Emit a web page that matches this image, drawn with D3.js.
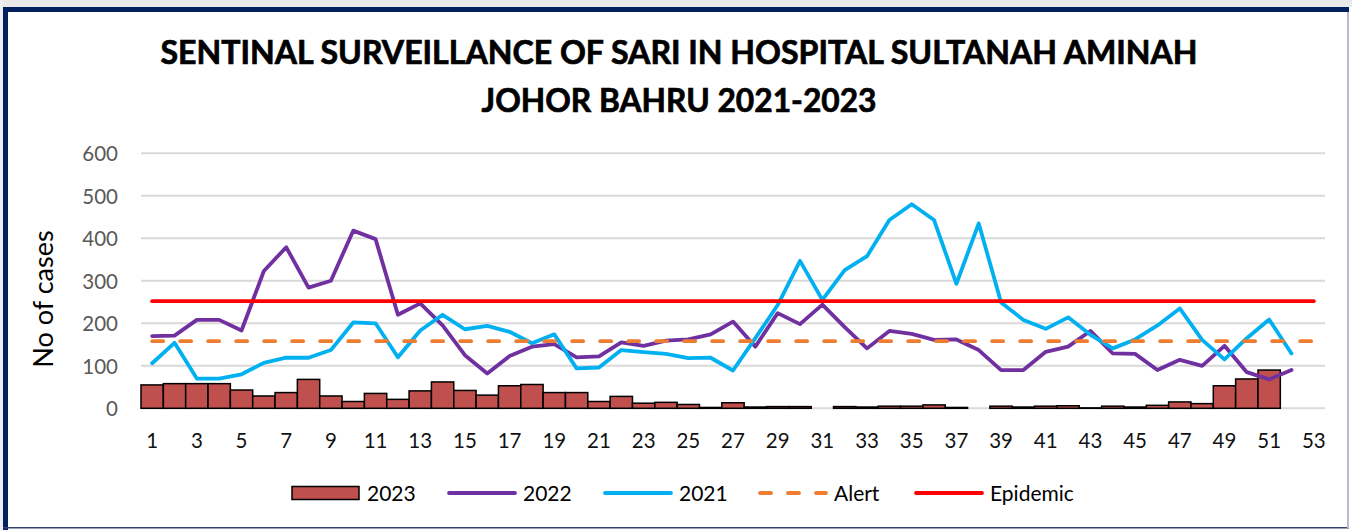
<!DOCTYPE html>
<html>
<head>
<meta charset="utf-8">
<script src="https://cdn.jsdelivr.net/npm/d3@7"></script>
<style>
  body { margin: 0; background: #ffffff; }
  svg { display: block; font-family: Lato, "Noto Sans", sans-serif; }
</style>
</head>
<body>
<div id="chart"></div>
<script>
// weekly data
const weeks = d3.range(1, 54);
const xLabels = weeks.filter(function (w) { return w % 2 === 1; });
const yTicks = [0, 100, 200, 300, 400, 500, 600];

const cases2023 = [55, 58, 58, 58, 43, 29, 37, 68, 29, 16, 35, 21, 41, 62,
  42, 31, 53, 56, 37, 37, 16, 28, 12, 14, 9, 2, 13, 3, 4, 4, 0, 4, 3, 5,
  5, 8, 2, 0, 5, 3, 5, 6, 1, 5, 3, 7, 15, 11, 53, 69, 90];

const cases2022 = [170, 171, 208, 208, 183, 323, 379, 284, 300, 418, 398, 220, 247, 195,
  125, 82, 123, 145, 151, 120, 122, 155, 147, 159, 162, 174, 204, 145, 224, 198, 244, 191, 141, 182,
  175, 161, 162, 137, 90, 90, 133, 145, 182, 129, 128, 90, 114, 100, 147, 85, 68, 90];

const cases2021 = [106, 154, 70, 70, 80, 107, 119, 119, 137, 202, 200, 120, 183, 220,
  186, 194, 180, 153, 174, 94, 96, 137, 132, 128, 118, 119, 89, 165, 243, 347, 255, 325, 358, 443,
  480, 443, 293, 435, 249, 208, 187, 214, 173, 141, 162, 195, 235, 161, 115, 165, 209, 129];

const alertLevel = 158;
const epidemicLevel = 252;

const titleLines = ["SENTINAL SURVEILLANCE OF SARI IN HOSPITAL SULTANAH AMINAH", "JOHOR BAHRU 2021-2023"];

////////////////////////////////////////////////////
// drawing                                        //
////////////////////////////////////////////////////
const config = {
  width: 1352, height: 530,
  plotLeft: 141, plotRight: 1325, plotTop: 153.3, plotBottom: 408.3,
  barColor: "#C0504D", color2022: "#7030A0", color2021: "#00B0F0",
  alertColor: "#ED7D31", epidemicColor: "#FF0000", gridColor: "#D9D9D9"
};

const svg = d3.select("#chart").append("svg")
  .attr("width", config.width)
  .attr("height", config.height);

// frame
svg.append("rect").attr("x", 0).attr("y", 0).attr("width", config.width).attr("height", config.height).attr("fill", "#ffffff");
svg.append("rect").attr("x", 0).attr("y", 0).attr("width", config.width).attr("height", 7).attr("fill", "#e9e9e9");
svg.append("rect").attr("x", 0).attr("y", 0).attr("width", 3).attr("height", config.height).attr("fill", "#eeeeee");
svg.append("rect").attr("x", 3).attr("y", 7).attr("width", 1346).attr("height", 5).attr("fill", "#002060");
svg.append("rect").attr("x", 3).attr("y", 7).attr("width", 5).attr("height", 523).attr("fill", "#002060");
svg.append("rect").attr("x", 3).attr("y", 527).attr("width", 1346).attr("height", 1.5).attr("fill", "#34406e");
svg.append("rect").attr("x", 1347).attr("y", 12).attr("width", 2).attr("height", 516).attr("fill", "#b9b9cf");

// title
svg.selectAll("text.title")
  .data(titleLines)
  .enter()
  .append("text")
  .attr("class", "title")
  .attr("x", 679)
  .attr("y", function (d, i) { return i === 0 ? 63.5 : 111.5; })
  .attr("text-anchor", "middle")
  .attr("font-size", 32)
  .attr("font-weight", "bold")
  .attr("fill", "#000")
  .attr("stroke", "#000")
  .attr("stroke-width", 0.7)
  .attr("textLength", function (d, i) { return i === 0 ? 1037 : 395; })
  .attr("lengthAdjust", "spacingAndGlyphs")
  .text(function (d) { return d; });

// scales
const x = d3.scaleBand().domain(weeks).range([config.plotLeft, config.plotRight]).padding(0);
const y = d3.scaleLinear().domain([0, 600]).range([config.plotBottom, config.plotTop]);
const cx = function (w) { return x(w) + x.bandwidth() / 2; };

// gridlines
svg.append("g")
  .attr("class", "grid")
  .selectAll("line")
  .data(yTicks)
  .enter()
  .append("line")
  .attr("x1", config.plotLeft)
  .attr("x2", config.plotRight)
  .attr("y1", function (d) { return y(d); })
  .attr("y2", function (d) { return y(d); })
  .attr("stroke", config.gridColor)
  .attr("stroke-width", 2);

// y axis
const yAxis = svg.append("g")
  .attr("transform", "translate(118,0)")
  .call(d3.axisLeft(y).tickValues(yTicks).tickSize(0).tickPadding(0));
yAxis.select(".domain").remove();
yAxis.selectAll("text")
  .attr("font-family", "Lato, 'Noto Sans', sans-serif")
  .attr("font-size", 20.5)
  .attr("fill", "#595959")
  .attr("dy", "0.36em");

// x axis
const xAxis = svg.append("g")
  .attr("transform", "translate(0," + config.plotBottom + ")")
  .call(d3.axisBottom(x).tickValues(xLabels).tickSize(0).tickPadding(0));
xAxis.select(".domain").remove();
xAxis.selectAll("text")
  .attr("font-family", "Lato, 'Noto Sans', sans-serif")
  .attr("font-size", 20.5)
  .attr("fill", "#111")
  .attr("y", 39.5)
  .attr("dy", 0);

// y title
svg.append("text")
  .attr("transform", "translate(53,299) rotate(-90)")
  .attr("text-anchor", "middle")
  .attr("font-size", 27)
  .attr("fill", "#000")
  .text("No of cases");

// bars (2023)
svg.append("g")
  .selectAll("rect.bar")
  .data(cases2023.map(function (v, i) { return { week: weeks[i], value: v }; })
    .filter(function (d) { return d.value > 0; }))
  .enter()
  .append("rect")
  .attr("class", "bar")
  .attr("x", function (d) { return x(d.week); })
  .attr("width", x.bandwidth())
  .attr("y", function (d) { return y(d.value); })
  .attr("height", function (d) { return y(0) - y(d.value); })
  .attr("fill", config.barColor)
  .attr("stroke", "#000")
  .attr("stroke-width", 1.5);

// lines
const line = d3.line()
  .x(function (d) { return cx(d.week); })
  .y(function (d) { return y(d.value); });

function addLine(values, color, dash) {
  const pts = values.map(function (v, i) { return { week: weeks[i], value: v }; });
  svg.append("path")
    .datum(pts)
    .attr("d", line)
    .attr("fill", "none")
    .attr("stroke", color)
    .attr("stroke-width", 3.8)
    .attr("stroke-linejoin", "round")
    .attr("stroke-linecap", "round")
    .attr("stroke-dasharray", dash || null);
}

addLine(cases2022, config.color2022);
addLine(cases2021, config.color2021);
addLine(weeks.map(function () { return alertLevel; }), config.alertColor, "11,17");
addLine(weeks.map(function () { return epidemicLevel; }), config.epidemicColor);

// legend
const legendItems = [
  { label: "2023", type: "bar", color: config.barColor, x: 292 },
  { label: "2022", type: "line", color: config.color2022, x: 447 },
  { label: "2021", type: "line", color: config.color2021, x: 603 },
  { label: "Alert", type: "dash", color: config.alertColor, x: 758 },
  { label: "Epidemic", type: "line", color: config.epidemicColor, x: 914 }
];
const legendY = 493;

const legend = svg.append("g").selectAll("g")
  .data(legendItems)
  .enter()
  .append("g")
  .attr("transform", function (d) { return "translate(" + d.x + "," + legendY + ")"; });

legend.filter(function (d) { return d.type === "bar"; })
  .append("rect")
  .attr("x", 0).attr("y", -6.5).attr("width", 67).attr("height", 13)
  .attr("fill", function (d) { return d.color; })
  .attr("stroke", "#000").attr("stroke-width", 1.5);

legend.filter(function (d) { return d.type !== "bar"; })
  .append("line")
  .attr("x1", 2).attr("x2", 68).attr("y1", 0).attr("y2", 0)
  .attr("stroke", function (d) { return d.color; })
  .attr("stroke-width", 3.8)
  .attr("stroke-linecap", "round")
  .attr("stroke-dasharray", function (d) { return d.type === "dash" ? "11,17" : null; });

legend.append("text")
  .attr("x", function (d) { return d.type === "bar" ? 75 : 76; })
  .attr("y", 7.5)
  .attr("font-size", 21)
  .attr("fill", "#000")
  .text(function (d) { return d.label; });
</script>
</body>
</html>
